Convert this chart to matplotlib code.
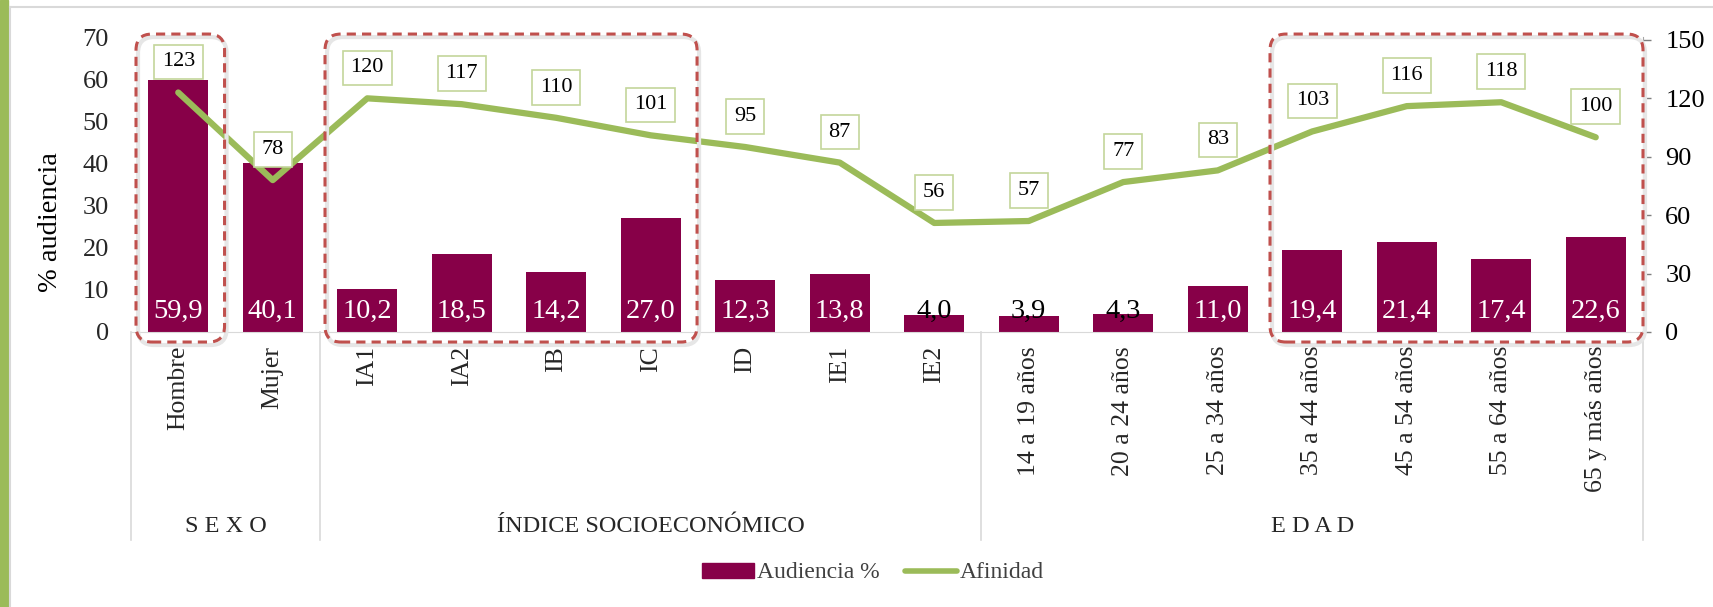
import matplotlib
matplotlib.use("Agg")
import matplotlib.pyplot as plt
from matplotlib.patches import FancyBboxPatch, Rectangle, Patch
from matplotlib.lines import Line2D
from matplotlib.transforms import IdentityTransform

plt.rcParams['font.family'] = ['Liberation Serif', 'DejaVu Serif']

categories = ["Hombre", "Mujer", "IA1", "IA2", "IB", "IC", "ID", "IE1", "IE2",
              "14 a 19 años", "20 a 24 años", "25 a 34 años", "35 a 44 años",
              "45 a 54 años", "55 a 64 años", "65 y más años"]
audiencia = [59.9, 40.1, 10.2, 18.5, 14.2, 27.0, 12.3, 13.8, 4.0,
             3.9, 4.3, 11.0, 19.4, 21.4, 17.4, 22.6]
afinidad = [123, 78, 120, 117, 110, 101, 95, 87, 56, 57, 77, 83, 103, 116, 118, 100]
groups = ["S E X O", "ÍNDICE SOCIOECONÓMICO", "E D A D"]
group_sizes = [2, 7, 7]
# highlighted category ranges (first, last index)
highlights = [(0, 0), (2, 5), (12, 15)]

BAR = "#870048"
GREEN = "#9BBB59"
RED = "#C0504D"
GRID = "#D9D9D9"
TXT = "#262626"

W, H = 1713, 607
fig = plt.figure(figsize=(W / 100, H / 100), dpi=100)
ax = fig.add_axes([131 / W, 1 - 332 / H, (1643 - 131) / W, (332 - 37) / H])
ax2 = ax.twinx()

x = list(range(len(categories)))
ax.bar(x, audiencia, width=0.63, color=BAR, zorder=2)
ax.set_xlim(-0.5, len(categories) - 0.5)
ax.set_ylim(0, 70)
ax.set_yticks(range(0, 71, 10))
ax.tick_params(axis="y", length=0, pad=16, labelsize=19, labelcolor=TXT)
ax.set_xticks(x)
ax.set_xticklabels(categories, rotation=90, fontsize=18.5, color=TXT)
ax.tick_params(axis="x", length=0, pad=10)
for s in ["left", "right", "top"]:
    ax.spines[s].set_visible(False)
ax.spines["bottom"].set_color(GRID)
ax.set_ylabel("% audiencia", fontsize=20.5, color="black")
ax.yaxis.set_label_coords(-0.045, 0.373)

for xi, v in zip(x, audiencia):
    col = "white" if v > 6 else "black"
    ax.text(xi, 5.0, f"{v:.1f}".replace(".", ","), ha="center", va="center",
            fontsize=20.5, color=col, zorder=3)

ax2.plot(x, afinidad, color=GREEN, lw=4.5, solid_capstyle="round", zorder=3)
ax2.set_ylim(0, 151.5)
ax2.set_yticks(range(0, 151, 30))
ax2.tick_params(axis="y", length=6, width=1, color="#7F7F7F", pad=10, labelsize=19)
for s in ["left", "top", "bottom"]:
    ax2.spines[s].set_visible(False)
ax2.spines["right"].set_color("#A6A6A6")

for xi, v in zip(x, afinidad):
    ax2.annotate(str(v), (xi, v), xytext=(0, 22), textcoords="offset points",
                 ha="center", va="center", fontsize=16, color="black",
                 bbox=dict(boxstyle="square,pad=0.35", fc="white", ec="#C3D69B", lw=1.2))

# group separators and labels below the axis
bounds = [0]
for n in group_sizes:
    bounds.append(bounds[-1] + n)
trans = ax.get_xaxis_transform()
for b in bounds:
    ax.plot([b - 0.5, b - 0.5], [0, -0.705], transform=trans, color=GRID,
            lw=1.2, clip_on=False)
for g, a, b in zip(groups, bounds[:-1], bounds[1:]):
    ax.text((a + b - 1) / 2, -0.66, g, transform=trans, ha="center", va="center",
            fontsize=17.5, color=TXT)

# dashed rounded highlight boxes, drawn in pixel space
fig.canvas.draw()
for a, b in highlights:
    x0, y0 = trans.transform((a - 0.447, -0.034))
    x1, y1 = trans.transform((b + 0.5 if b == len(categories) - 1 else b + 0.49, 1.01))
    fig.add_artist(FancyBboxPatch((x0 + 2, y0 - 3), x1 - x0, y1 - y0,
                                  boxstyle="round,pad=0,rounding_size=16",
                                  transform=IdentityTransform(), fill=False,
                                  ec="#E6E6E6", lw=3, zorder=4))
    fig.add_artist(FancyBboxPatch((x0, y0), x1 - x0, y1 - y0,
                                  boxstyle="round,pad=0,rounding_size=16",
                                  transform=IdentityTransform(), fill=False,
                                  ec=RED, lw=2.2, ls=(0, (3, 2)), zorder=5))

# slide frame
fig.add_artist(Rectangle((0, 0), 8 / W, 1, transform=fig.transFigure,
                         color=GREEN, zorder=0))
fig.add_artist(Line2D([10 / W, 10 / W], [0, 1 - 7 / H], transform=fig.transFigure,
                      color=GRID, lw=1.5))
fig.add_artist(Line2D([10 / W, 1], [1 - 7 / H, 1 - 7 / H], transform=fig.transFigure,
                      color=GRID, lw=1.5))

handles = [Patch(color=BAR, label="Audiencia %"),
           Line2D([], [], color=GREEN, lw=4, solid_capstyle="round", label="Afinidad")]
leg = fig.legend(handles=handles, loc="center", bbox_to_anchor=(873 / W, 1 - 573 / H),
                 ncol=2, frameon=False, fontsize=17, handlelength=2.2, handleheight=0.6,
                 handletextpad=0.1, columnspacing=1.1)
for t in leg.get_texts():
    t.set_color("#404040")

fig.savefig("out.png", dpi=100)
